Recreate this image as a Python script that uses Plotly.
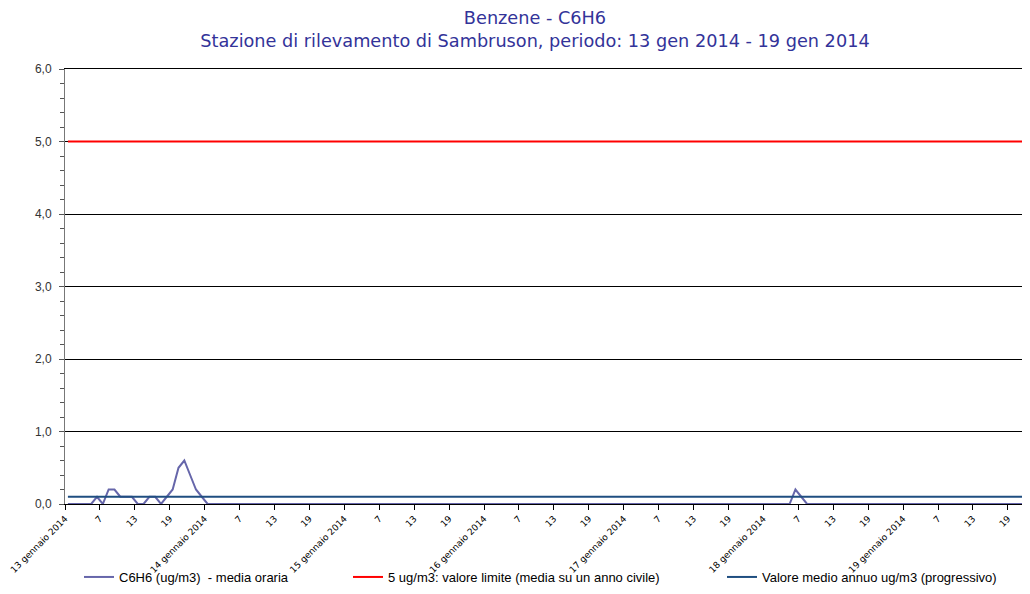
import plotly.graph_objects as go

# ---- data ----
days = ["13 gennaio 2014", "14 gennaio 2014", "15 gennaio 2014", "16 gennaio 2014",
        "17 gennaio 2014", "18 gennaio 2014", "19 gennaio 2014"]
hour_labels = ["7", "13", "19"]

# hourly benzene values (ug/m3), 7 days x 24 hours
c6h6_day1 = [0, 0, 0, 0, 0, 0.1, 0, 0.2, 0.2, 0.1, 0.1, 0.1,
             0, 0, 0.1, 0.1, 0, 0.1, 0.2, 0.5, 0.6, 0.4, 0.2, 0.1]
c6h6_day2 = [0] * 24
c6h6_day3 = [0] * 24
c6h6_day4 = [0] * 24
c6h6_day5 = [0] * 24
c6h6_day6 = [0, 0, 0, 0, 0, 0.2, 0.1, 0, 0, 0, 0, 0,
             0, 0, 0, 0, 0, 0, 0, 0, 0, 0, 0, 0]
c6h6_day7 = [0] * 24
c6h6 = c6h6_day1 + c6h6_day2 + c6h6_day3 + c6h6_day4 + c6h6_day5 + c6h6_day6 + c6h6_day7

limit_value = 5.0      # valore limite
annual_mean = 0.1      # valore medio annuo (progressivo)

n = len(c6h6)
hours = list(range(n))
x = [h + 0.5 for h in hours]   # centre of each hourly interval

# tick labels every 6 hours
tickvals, ticktext = [], []
for d, day in enumerate(days):
    tickvals.append(d * 24)
    ticktext.append(day)
    for k, hl in enumerate(hour_labels):
        tickvals.append(d * 24 + 6 * (k + 1))
        ticktext.append(hl)

W, H = 1022, 578   # page body has an 8px margin

fig = go.Figure()
fig.add_trace(go.Scatter(
    x=x, y=c6h6, mode="lines", name="C6H6 (ug/m3)  - media oraria",
    line=dict(color="#6666AA", width=2), legend="legend"))
fig.add_trace(go.Scatter(
    x=x, y=[limit_value] * n, mode="lines",
    name="5 ug/m3: valore limite (media su un anno civile)",
    line=dict(color="#FF0000", width=2), legend="legend2"))
fig.add_trace(go.Scatter(
    x=x, y=[annual_mean] * n, mode="lines",
    name="Valore medio annuo ug/m3 (progressivo)",
    line=dict(color="#1F4E80", width=2), legend="legend3"))

legend_common = dict(orientation="h", xref="container", yref="container",
                     yanchor="middle", xanchor="left",
                     font=dict(family="Liberation Sans, Arial", size=13, color="#000"),
                     bgcolor="rgba(0,0,0,0)", itemwidth=30)

fig.update_layout(
    width=W, height=H,
    margin=dict(l=57, r=0, t=61, b=82, autoexpand=False),
    paper_bgcolor="white", plot_bgcolor="white",
    separators=",.",
    showlegend=True,
    title=dict(
        text="Benzene - C6H6<br>Stazione di rilevamento di Sambruson, periodo: 13 gen 2014 - 19 gen 2014",
        x=527 / W, xanchor="center", xref="container",
        y=1 - 16 / H, yanchor="middle", yref="container",
        font=dict(family="DejaVu Sans", size=17.7, color="#333399")),
    legend=dict(x=71 / W, y=1 - 569 / H, **legend_common),
    legend2=dict(x=340 / W, y=1 - 569 / H, **legend_common),
    legend3=dict(x=714 / W, y=1 - 569 / H, **legend_common),
    xaxis=dict(
        range=[0, 165.8], tickvals=tickvals, ticktext=ticktext, tickangle=-45,
        ticks="outside", ticklen=5, tickcolor="#000", showgrid=False,
        showline=True, linecolor="#000", linewidth=1, zeroline=False,
        mirror=True, automargin=False,
        tickfont=dict(family="DejaVu Sans", size=9, color="#000")),
    yaxis=dict(
        range=[0, 6], dtick=1, tickformat=".1f", ticks="outside", ticklen=5,
        tickcolor="#555", showline=True, linecolor="#777", linewidth=1,
        showgrid=True, gridcolor="#000", gridwidth=1, zeroline=False,
        automargin=False, ticklabelstandoff=5,
        minor=dict(dtick=0.2, ticks="outside", ticklen=4, tickcolor="#555", showgrid=False),
        tickfont=dict(family="Liberation Sans, Arial", size=12, color="#333")),
)

fig.write_html("out.html")
